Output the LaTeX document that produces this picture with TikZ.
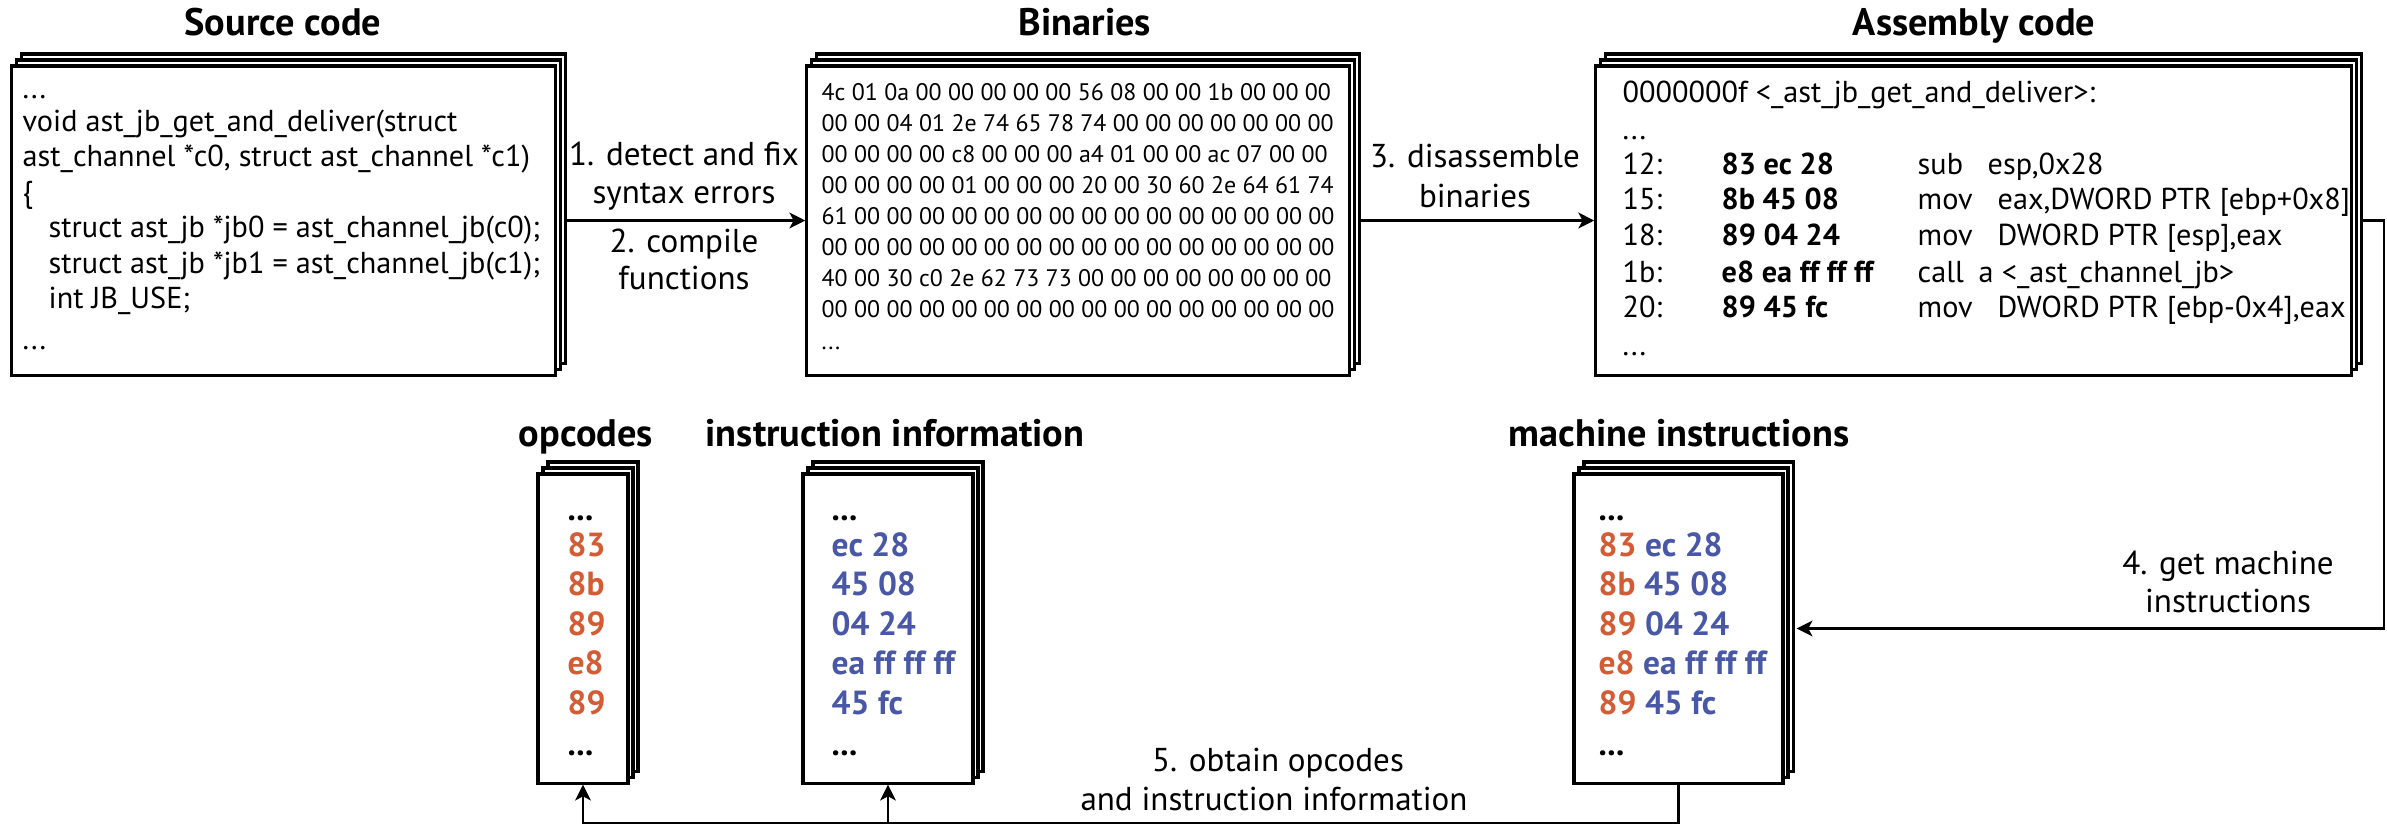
\documentclass[tikz,border=0pt]{standalone}
\usepackage{fontspec}
\setmainfont{PT Sans}
\usetikzlibrary{arrows.meta,shadows}

\definecolor{opcol}{RGB}{212,92,52}
\definecolor{infcol}{RGB}{72,88,166}
\newcommand{\more}{...}

\tikzset{
	page/.style={draw, line width=0.9pt, fill=white, inner sep=0pt,
		copy shadow={shadow xshift=0.1cm, shadow yshift=0.12cm},
		copy shadow={shadow xshift=0.05cm, shadow yshift=0.06cm}},
	title/.style={font=\fontsize{10.9}{12}\selectfont\bfseries, anchor=base, inner sep=0pt},
	code/.style={font=\fontsize{8.6}{10}\selectfont, anchor=base west, inner sep=0pt},
	hex/.style={font=\fontsize{6.8}{9}\selectfont, anchor=base west, inner sep=0pt},
	big/.style={font=\fontsize{9.5}{10}\selectfont\bfseries, anchor=base west, inner sep=0pt},
	lbl/.style={font=\fontsize{9.4}{10}\selectfont, anchor=base, inner sep=0pt},
	arr/.style={line width=0.6pt, -{Stealth[length=4.5pt, width=4.5pt, inset=1.2pt]}}
}

\begin{document}
\begin{tikzpicture}[x=0.01cm, y=-0.01cm]

	\useasboundingbox (0,0) rectangle (2387,826);

	% stacked pages
	\node[page, minimum width=5.43cm, minimum height=3.09cm] (src) at (283.5,220.5) {};
	\node[page, minimum width=5.42cm, minimum height=3.09cm] (bin) at (1078,220.5) {};
	\node[page, minimum width=7.55cm, minimum height=3.09cm] (asm) at (1973.5,220.5) {};
	\node[page, minimum width=0.90cm, minimum height=3.09cm] (opc) at (583,628.5) {};
	\node[page, minimum width=1.70cm, minimum height=3.09cm] (info) at (888,628.5) {};
	\node[page, minimum width=2.09cm, minimum height=3.09cm] (mach) at (1678.5,628.5) {};

	% titles
	\node[title] (tsrc) at (283,35) {Source code};
	\node[title] (tbin) at (1085,35) {Binaries};
	\node[title] (tasm) at (1974,35) {Assembly code};
	\node[title] (topc) at (586,446) {opcodes};
	\node[title] (tinfo) at (895,446) {instruction information};
	\node[title] (tmach) at (1679,446) {machine instructions};

	% source code
	\foreach \y / \x / \t [count=\i] in {
	{98/22/\more},
	{131/22/void ast\_jb\_get\_and\_deliver(struct},
	{166/22/ast\_channel *c0, struct ast\_channel *c1)},
	{202/22/\{},
	{237/48/struct ast\_jb *jb0 = ast\_channel\_jb(c0);},
	{273/48/struct ast\_jb *jb1 = ast\_channel\_jb(c1);},
	{308/48/int JB\_USE;},
	{349/22/\more}}
	{
		\node[code] (src\i) at (\x,\y) {\t};
	};

	% binaries
	\foreach \y / \t [count=\i] in {
	100/4c 01 0a 00 00 00 00 00 56 08 00 00 1b 00 00 00,
	131/00 00 04 01 2e 74 65 78 74 00 00 00 00 00 00 00,
	162/00 00 00 00 c8 00 00 00 a4 01 00 00 ac 07 00 00,
	193/00 00 00 00 01 00 00 00 20 00 30 60 2e 64 61 74,
	224/61 00 00 00 00 00 00 00 00 00 00 00 00 00 00 00,
	255/00 00 00 00 00 00 00 00 00 00 00 00 00 00 00 00,
	286/40 00 30 c0 2e 62 73 73 00 00 00 00 00 00 00 00,
	317/00 00 00 00 00 00 00 00 00 00 00 00 00 00 00 00,
	349/\more}
	{
		\node[hex] (bin\i) at (821,\y) {\t};
	};

	% assembly
	\node[code] (asm0) at (1622,102) {0000000f <\_ast\_jb\_get\_and\_deliver>:};
	\node[code] (asm1) at (1622,139) {\more};
	\foreach \y / \a / \b / \m / \ox / \o [count=\i] in {
	{174/12:/83 ec 28/sub/1987/esp,0x28},
	{209/15:/8b 45 08/mov/1997/eax,DWORD PTR [ebp+0x8]},
	{245/18:/89 04 24/mov/1997/DWORD PTR [esp],eax},
	{282/1b:/e8 ea ff ff ff/call/1978/a <\_ast\_channel\_jb>},
	{317/20:/89 45 fc/mov/1997/DWORD PTR [ebp-0x4],eax}}
	{
		\node[code] (adr\i) at (1622,\y) {\a};
		\node[code, font=\fontsize{8.6}{10}\selectfont\bfseries] (byt\i) at (1721,\y) {\b};
		\node[code] (mn\i) at (1917,\y) {\m};
		\node[code] (opd\i) at (\ox,\y) {\o};
	};
	\node[code] (asm2) at (1622,355) {\more};

	% opcodes, instruction information, machine instructions
	\foreach \n / \x in {opc/567, inf/831, mac/1598}
	{
		\node[big] (\n A) at (\x,520) {\more};
		\node[big] (\n B) at (\x,755) {\more};
	};
	\foreach \p / \q [count=\i] in {83/ec 28, 8b/45 08, 89/04 24, e8/ea ff ff ff, 89/45 fc}
	{
		\node[big, text=opcol] (opc\i) at (567,{556+39.5*(\i-1)}) {\p};
		\node[big, text=infcol] (inf\i) at (831,{556+39.5*(\i-1)}) {\q};
		\node[big] (mac\i) at (1598,{556+39.5*(\i-1)}) {\textcolor{opcol}{\p} \textcolor{infcol}{\q}};
	};

	% arrow labels
	\node[lbl] (l1a) at (684,165) {1. detect and fix};
	\node[lbl] (l1b) at (684,203) {syntax errors};
	\node[lbl] (l2a) at (684,252) {2. compile};
	\node[lbl] (l2b) at (684,289) {functions};
	\node[lbl] (l3a) at (1475,167) {3. disassemble};
	\node[lbl] (l3b) at (1475,207) {binaries};
	\node[lbl] (l4a) at (2228,574) {4. get machine};
	\node[lbl] (l4b) at (2228,612) {instructions};
	\node[lbl] (l5a) at (1278,771) {5. obtain opcodes};
	\node[lbl] (l5b) at (1274,810) {and instruction information};

	% connectors
	\coordinate (bus) at (0,823);
	\draw[arr] ([xshift=0.1cm]src.east) -- (bin.west);
	\draw[arr] ([xshift=0.1cm]bin.east) -- (asm.west);
	\draw[arr] ([xshift=0.1cm]asm.east) -- ++(0.21cm,0) |- ([xshift=0.12cm]mach.east);
	\draw[arr] (mach.south) |- (opc.south |- bus) -- (opc.south);
	\draw[arr] (info.south |- bus) -- (info.south);

\end{tikzpicture}
\end{document}
